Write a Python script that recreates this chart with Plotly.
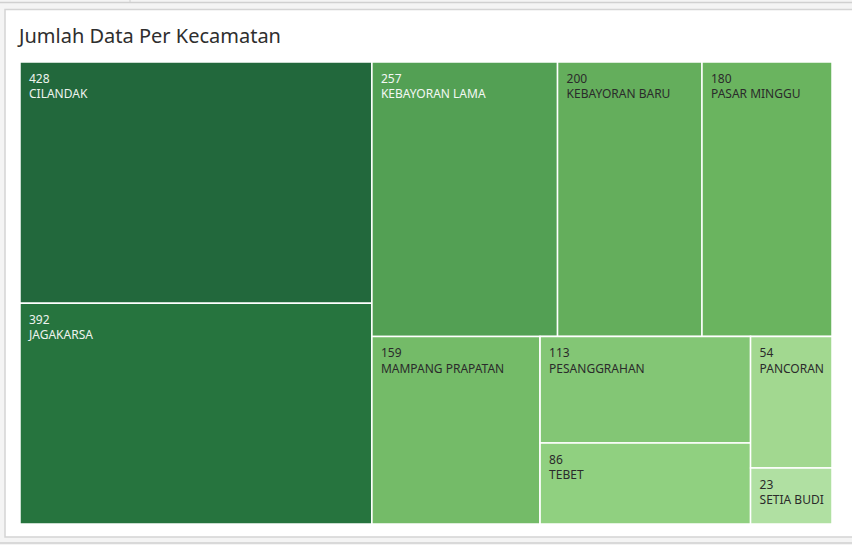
import plotly.graph_objects as go

W, H = 852, 545

# Data
kecamatan = ["CILANDAK", "JAGAKARSA", "KEBAYORAN LAMA", "KEBAYORAN BARU", "PASAR MINGGU",
             "MAMPANG PRAPATAN", "PESANGGRAHAN", "TEBET", "PANCORAN", "SETIA BUDI"]
jumlah = [428, 392, 257, 200, 180, 159, 113, 86, 54, 23]
warna = ["#22683c", "#26743e", "#53a054", "#64ae5c", "#6ab45f",
         "#74bb68", "#83c675", "#90d080", "#a2d890", "#b0e0a2"]
warna_teks = ["#eef3ee", "#eef3ee", "#f4f8f4", "#2b2b2b", "#2b2b2b",
              "#2b2b2b", "#2b2b2b", "#2b2b2b", "#2b2b2b", "#2b2b2b"]
# grouping used by the layout (slice-dice hierarchy)
kelompok = ["kiri", "kiri", "atas", "atas", "atas",
            "bawah", "g2", "g2", "g3", "g3"]
grup_ids = ["root", "kiri", "kanan", "atas", "bawah", "g2", "g3"]
grup_parent = ["", "root", "root", "kanan", "kanan", "bawah", "bawah"]

IND = "\u2002"  # small left indent inside each tile
TOP = "<span style='font-size:2px'>\u2009</span><br>"  # small top offset

ids, parents, labels, values, colors, tcolors, texts = [], [], [], [], [], [], []
def add_group(g):
    i = grup_ids.index(g)
    ids.append(g); parents.append(grup_parent[i]); labels.append(g)
    values.append(0); colors.append("#ffffff"); tcolors.append("#ffffff"); texts.append("")

def add_leaf(k):
    ids.append(kecamatan[k]); parents.append(kelompok[k]); labels.append(kecamatan[k])
    values.append(jumlah[k]); colors.append(warna[k]); tcolors.append(warna_teks[k])
    texts.append(f"{TOP}{IND}{jumlah[k]}<br>{IND}{kecamatan[k]}")

add_group("root")
add_group("kiri")
add_leaf(0); add_leaf(1)
add_group("kanan")
add_group("atas")
add_leaf(2); add_leaf(3); add_leaf(4)
add_group("bawah")
add_leaf(5)
add_group("g2"); add_leaf(6); add_leaf(7)
add_group("g3"); add_leaf(8); add_leaf(9)

fig = go.Figure(go.Treemap(
    ids=ids, parents=parents, labels=labels, values=values,
    branchvalues="remainder", sort=False,
    text=texts, textinfo="text", textposition="top left",
    textfont=dict(family="Noto Sans", size=12, color=tcolors),
    marker=dict(colors=colors, line=dict(color="#ffffff", width=1.5),
                pad=dict(t=0, l=0, r=0, b=0)),
    tiling=dict(packing="slice-dice", pad=0),
    pathbar=dict(visible=False),
    root=dict(color="#ffffff"),
    hovertext=[l if v else "" for l, v in zip(labels, values)],
    hoverinfo="text+value",
    domain=dict(x=[20 / W, 832 / W], y=[1 - 524 / H, 1 - 62 / H]),
))

shapes = [
    dict(type="rect", xref="paper", yref="paper", x0=5 / W, x1=1.02, y0=1 - 537 / H, y1=1 - 9.5 / H,
         fillcolor="#ffffff", line=dict(color="#d4d4d4", width=1.5), layer="below"),
    dict(type="line", xref="paper", yref="paper", x0=0, x1=1, y0=1 - 2.5 / H, y1=1 - 2.5 / H,
         line=dict(color="#d0d0d0", width=1.5)),
    dict(type="line", xref="paper", yref="paper", x0=130 / W, x1=130 / W, y0=1 - 2.5 / H, y1=1,
         line=dict(color="#d0d0d0", width=1)),
    dict(type="line", xref="paper", yref="paper", x0=0, x1=1, y0=1 - 543 / H, y1=1 - 543 / H,
         line=dict(color="#d0d0d0", width=1.5)),
]

fig.update_layout(
    width=W, height=H, margin=dict(l=0, r=0, t=0, b=0),
    paper_bgcolor="#f4f4f4", plot_bgcolor="#ffffff",
    shapes=shapes,
    annotations=[dict(text="Jumlah Data Per Kecamatan", xref="paper", yref="paper",
                      x=15 / W, y=1 - 35.5 / H, xanchor="left", yanchor="middle", showarrow=False,
                      font=dict(family="Noto Sans", size=20, color="#2e2e2e"))],
)

fig.write_html("out.html")
